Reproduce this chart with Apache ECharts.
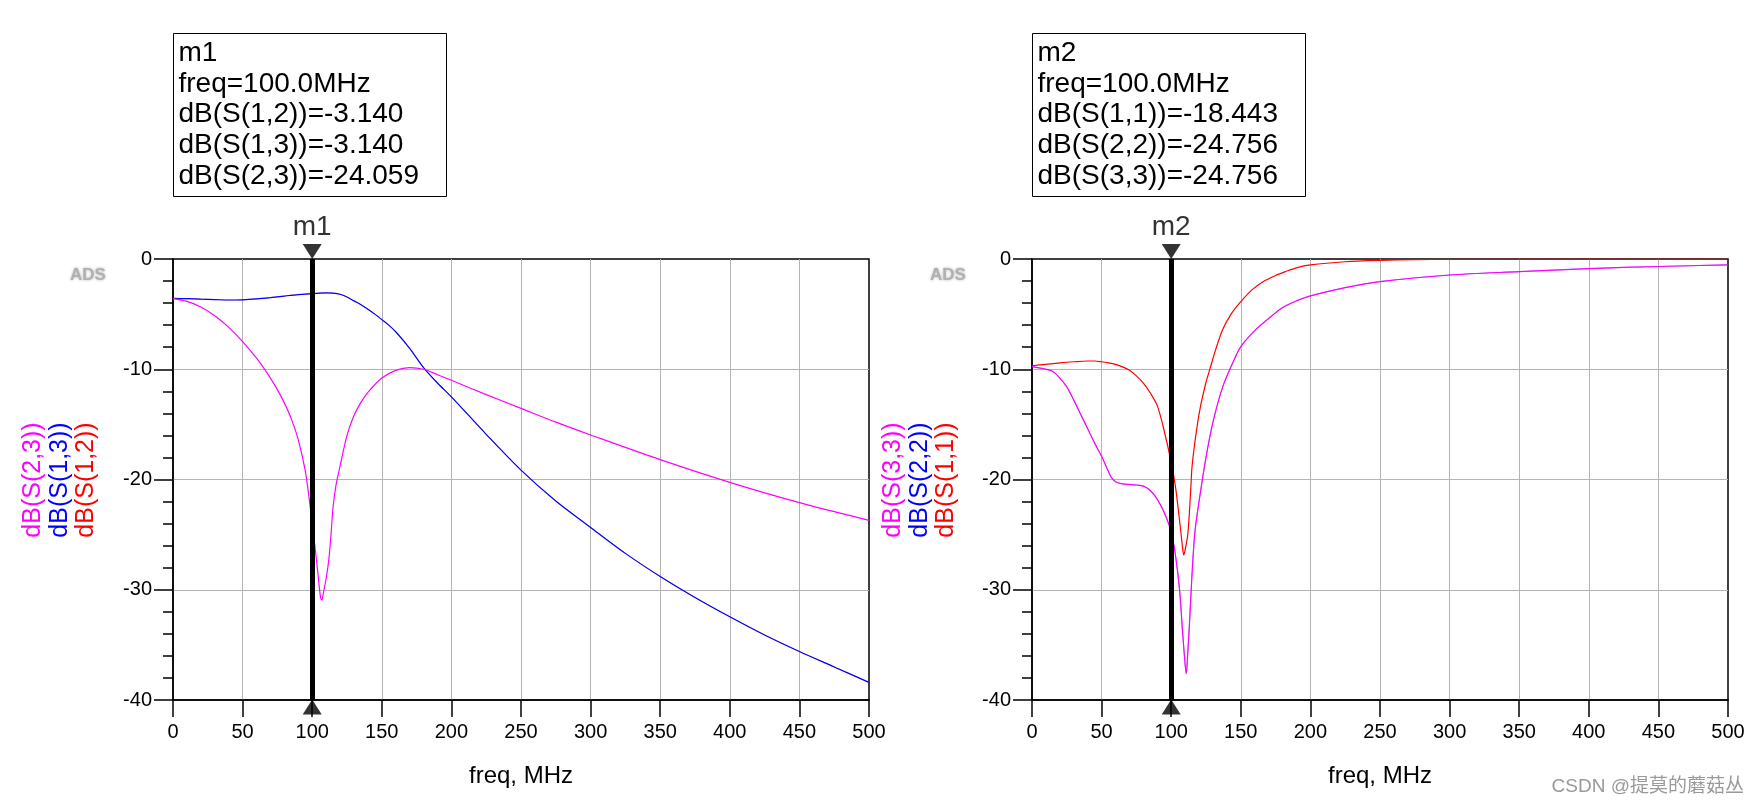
<!DOCTYPE html>
<html>
<head>
<meta charset="utf-8">
<script src="https://cdn.jsdelivr.net/npm/echarts@6/dist/echarts.min.js"></script>
<style>html,body{margin:0;padding:0;background:#fff;}#c{width:1758px;height:806px;}</style>
</head>
<body>
<div id="c"></div>
<script>
// ---- tick labels ----
const xTicks = [0, 50, 100, 150, 200, 250, 300, 350, 400, 450, 500];
const yTicks = [-40, -30, -20, -10, 0];
const markerFreq = 100;

// ---- left plot: S(1,2), S(1,3), S(2,3) ----
const freqS13 = [0,10,20,30,40,50,60,70,80,90,100,105,110,115,120,125,130,135,140,145,150,155,160,170,180,190,200,225,250,275,300,325,350,375,400,425,450,475,500];
const dbS13  = [-3.57,-3.6,-3.64,-3.68,-3.72,-3.7,-3.62,-3.5,-3.36,-3.23,-3.14,-3.1,-3.08,-3.1,-3.2,-3.45,-3.8,-4.15,-4.55,-5.0,-5.5,-6.0,-6.6,-8.1,-9.85,-11.25,-12.5,-15.9,-19.15,-21.95,-24.35,-26.7,-28.8,-30.7,-32.45,-34.1,-35.6,-37.0,-38.4];
const freqS12 = [0,10,20,30,40,50,60,70,80,90,100,105,110,115,120,125,130,135,140,145,150,155,160,170,180,190,200,225,250,275,300,325,350,375,400,425,450,475,500];
const dbS12  = [-3.57,-3.6,-3.64,-3.68,-3.72,-3.7,-3.62,-3.5,-3.36,-3.23,-3.14,-3.1,-3.08,-3.1,-3.2,-3.45,-3.8,-4.15,-4.55,-5.0,-5.5,-6.0,-6.6,-8.1,-9.85,-11.25,-12.5,-15.9,-19.15,-21.95,-24.35,-26.7,-28.8,-30.7,-32.45,-34.1,-35.6,-37.0,-38.4];
const freqS23 = [0,10,20,30,40,50,60,65,70,75,80,85,90,95,98,100,102,104,106,107,108,110,112,113.5,115,117,120,125,130,135,140,150,160,170,180,190,200,225,250,275,300,350,400,450,500];
const dbS23  = [-3.6,-3.85,-4.35,-5.15,-6.2,-7.5,-9.0,-9.85,-10.8,-11.85,-13.05,-14.5,-16.4,-19.2,-21.9,-24.06,-26.1,-28.4,-30.7,-30.95,-30.3,-29.0,-27.2,-25.0,-22.5,-20.6,-18.8,-16.0,-14.2,-13.0,-12.1,-10.8,-10.1,-9.85,-10.0,-10.5,-11.0,-12.3,-13.55,-14.8,-15.96,-18.2,-20.26,-22.1,-23.7];

// ---- right plot: S(1,1), S(2,2), S(3,3) ----
const freqS11 = [0,10,20,30,40,45,50,55,60,65,70,75,80,85,90,95,100,103,106,108,109,110,112,114,115,118,121,125,128,132,137,143,150,158,166,175,182,190,200,225,250,275,300,400,500];
const dbS11  = [-9.68,-9.55,-9.42,-9.32,-9.25,-9.25,-9.32,-9.42,-9.56,-9.78,-10.1,-10.6,-11.25,-12.15,-13.3,-15.6,-18.44,-20.6,-23.7,-26.0,-26.85,-26.4,-24.9,-21.0,-18.8,-15.7,-13.4,-11.2,-9.9,-8.2,-6.4,-5.0,-3.87,-2.8,-2.06,-1.5,-1.15,-0.8,-0.54,-0.25,-0.12,-0.05,-0.03,-0.01,0];
const freqS33 = [0,10,15,20,25,30,35,40,45,50,55,57,60,65,70,75,80,85,90,95,100,103,106,108,109.5,110.8,112,113.5,115,117,120,125,130,137,145,150,160,170,180,190,200,225,250,300,350,400,450,500];
const dbS33  = [-9.77,-10.0,-10.2,-10.8,-11.6,-12.8,-14.1,-15.4,-16.7,-17.9,-19.3,-19.8,-20.2,-20.4,-20.45,-20.5,-20.6,-21.0,-21.8,-23.0,-24.76,-26.8,-30.0,-33.5,-36.0,-37.6,-35.5,-32.2,-28.5,-24.8,-22.0,-18.0,-14.8,-11.6,-9.2,-7.95,-6.5,-5.4,-4.4,-3.8,-3.35,-2.6,-2.05,-1.45,-1.15,-0.87,-0.68,-0.53];
const freqS22 = [0,10,15,20,25,30,35,40,45,50,55,57,60,65,70,75,80,85,90,95,100,103,106,108,109.5,110.8,112,113.5,115,117,120,125,130,137,145,150,160,170,180,190,200,225,250,300,350,400,450,500];
const dbS22  = [-9.77,-10.0,-10.2,-10.8,-11.6,-12.8,-14.1,-15.4,-16.7,-17.9,-19.3,-19.8,-20.2,-20.4,-20.45,-20.5,-20.6,-21.0,-21.8,-23.0,-24.76,-26.8,-30.0,-33.5,-36.0,-37.6,-35.5,-32.2,-28.5,-24.8,-22.0,-18.0,-14.8,-11.6,-9.2,-7.95,-6.5,-5.4,-4.4,-3.8,-3.35,-2.6,-2.05,-1.45,-1.15,-0.87,-0.68,-0.53];

const FONT = '"Liberation Sans", Arial, Helvetica, sans-serif';
const MAG = '#ff00ff', BLU = '#0000ff', RED = '#ff0000';
const xMin = xTicks[0], xMax = xTicks[xTicks.length - 1];
const yMin = yTicks[0], yMax = yTicks[yTicks.length - 1];

const chart = echarts.init(document.getElementById('c'), null, {renderer: 'canvas'});

function xAx(gi) {
  return {
    type: 'value', gridIndex: gi, min: xMin, max: xMax, interval: xTicks[1] - xTicks[0],
    axisLine: {show: true, onZero: false, lineStyle: {color: '#000', width: 1.5}},
    axisTick: {show: true, inside: false, length: 17, lineStyle: {color: '#000', width: 1.5}},
    axisLabel: {show: true, fontSize: 20, color: '#000', fontFamily: FONT, margin: 22, showMinLabel: true, showMaxLabel: true, hideOverlap: false},
    splitLine: {show: true, showMinLine: false, showMaxLine: false, lineStyle: {color: '#b4b4b4', width: 1}},
    name: 'freq, MHz', nameLocation: 'middle', nameGap: 64,
    nameTextStyle: {fontSize: 24, color: '#000', fontFamily: FONT}
  };
}
function yAx(gi) {
  return {
    type: 'value', gridIndex: gi, min: yMin, max: yMax, interval: yTicks[1] - yTicks[0],
    axisLine: {show: true, onZero: false, lineStyle: {color: '#000', width: 1.5}},
    axisTick: {show: true, inside: false, length: 19, lineStyle: {color: '#000', width: 1.5}},
    minorTick: {show: true, splitNumber: 5, length: 10, lineStyle: {color: '#000', width: 1.5}},
    axisLabel: {show: true, fontSize: 20, color: '#000', fontFamily: FONT, margin: 21, showMinLabel: true, showMaxLabel: true, hideOverlap: false},
    splitLine: {show: true, showMinLine: false, showMaxLine: false, lineStyle: {color: '#b4b4b4', width: 1}}
  };
}
// a trace lying under an identical one is kept thin so it does not tint the visible one
function curve(name, color, freqs, vals, gi, width, z) {
  return {
    type: 'line', name: name, xAxisIndex: gi, yAxisIndex: gi,
    data: freqs.map((f, i) => [f, vals[i]]),
    showSymbol: false, symbol: 'none', smooth: 0.3,
    lineStyle: {color: color, width: width}, itemStyle: {color: color},
    clip: true, z: z, silent: true, animation: false,
    emphasis: {disabled: true}
  };
}
function marker(label, gi) {
  return {
    type: 'scatter', xAxisIndex: gi, yAxisIndex: gi, clip: false, z: 10, silent: true,
    animation: false, symbolSize: [19, 15], itemStyle: {color: '#000'},
    emphasis: {disabled: true},
    data: [
      {value: [markerFreq, yMax], symbol: 'path://M0,0L20,0L10,16Z', symbolKeepAspect: false, symbolOffset: [0, -7.5],
       label: {show: true, position: 'top', distance: 3, formatter: label, fontSize: 28, color: '#000', fontFamily: FONT}},
      {value: [markerFreq, yMin], symbol: 'path://M10,0L20,16L0,16Z', symbolKeepAspect: false, symbolOffset: [0, 7], label: {show: false}}
    ],
    markLine: {
      silent: true, symbol: 'none', animation: false,
      label: {show: false}, emphasis: {disabled: true},
      lineStyle: {color: '#000', width: 5, type: 'solid'},
      data: [{xAxis: markerFreq}]
    }
  };
}
function vtext(txt, color, x, y) {
  return {type: 'text', x: x, y: y, rotation: Math.PI / 2, silent: true,
    style: {text: txt, fill: color, font: '25px ' + FONT, textAlign: 'center', textVerticalAlign: 'middle'}};
}
function box(x, y, w, h, lines) {
  return [
    {type: 'rect', shape: {x: x, y: y, width: w, height: h}, silent: true,
     style: {fill: 'none', stroke: '#000', lineWidth: 1}},
    {type: 'text', x: x + 5, y: y + 4.5, silent: true,
     style: {text: lines.join('\n'), fill: '#000', font: '28px ' + FONT, lineHeight: 30.7, textAlign: 'left', textVerticalAlign: 'top'}}
  ];
}
function ads(x, y) {
  return {type: 'text', x: x, y: y, silent: true,
    style: {text: 'ADS', fill: '#b0b0b0', font: 'bold 17px ' + FONT, textAlign: 'center', textVerticalAlign: 'middle',
      textShadowColor: 'rgba(0,0,0,0.3)', textShadowBlur: 3}};
}

const option = {
  backgroundColor: '#ffffff',
  animation: false,
  grid: [
    {left: 173, top: 259, width: 696, height: 441, show: true, borderColor: '#000', borderWidth: 1.5, backgroundColor: 'transparent', containLabel: false},
    {left: 1032, top: 259, width: 696, height: 441, show: true, borderColor: '#000', borderWidth: 1.5, backgroundColor: 'transparent', containLabel: false}
  ],
  xAxis: [xAx(0), xAx(1)],
  yAxis: [yAx(0), yAx(1)],
  series: [
    curve('dB(S(1,2))', RED, freqS12, dbS12, 0, 0.4, 2),
    curve('dB(S(1,3))', BLU, freqS13, dbS13, 0, 1.2, 3),
    curve('dB(S(2,3))', MAG, freqS23, dbS23, 0, 1.2, 4),
    curve('dB(S(1,1))', RED, freqS11, dbS11, 1, 1.2, 3),
    curve('dB(S(2,2))', BLU, freqS22, dbS22, 1, 0.4, 2),
    curve('dB(S(3,3))', MAG, freqS33, dbS33, 1, 1.2, 4),
    marker('m1', 0),
    marker('m2', 1)
  ],
  graphic: [].concat(
    box(173.5, 33.5, 273, 163, ['m1', 'freq=100.0MHz', 'dB(S(1,2))=-3.140', 'dB(S(1,3))=-3.140', 'dB(S(2,3))=-24.059']),
    box(1032.5, 33.5, 273, 163, ['m2', 'freq=100.0MHz', 'dB(S(1,1))=-18.443', 'dB(S(2,2))=-24.756', 'dB(S(3,3))=-24.756']),
    [
      vtext('dB(S(2,3))', MAG, 33, 480), vtext('dB(S(1,3))', BLU, 60, 480), vtext('dB(S(1,2))', RED, 86, 480),
      vtext('dB(S(3,3))', MAG, 893, 480), vtext('dB(S(2,2))', BLU, 920, 480), vtext('dB(S(1,1))', RED, 946, 480),
      ads(88, 275), ads(948, 275),
      {type: 'text', x: 1744, y: 787, silent: true,
       style: {text: 'CSDN @提莫的蘑菇丛', fill: '#9a9a9a', font: '19px "Liberation Sans", "Noto Sans CJK SC", sans-serif', textAlign: 'right', textVerticalAlign: 'middle'}}
    ]
  )
};
chart.setOption(option);
</script>
</body>
</html>
